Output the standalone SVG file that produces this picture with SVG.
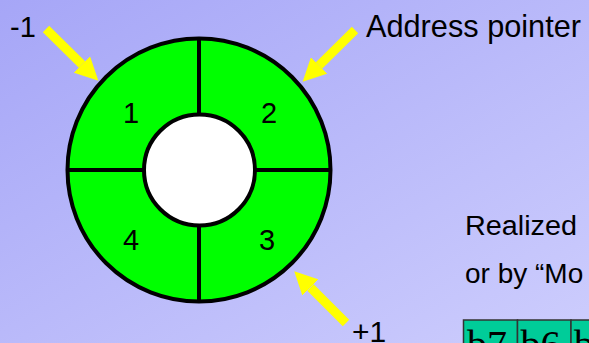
<svg xmlns="http://www.w3.org/2000/svg" width="589" height="343" viewBox="0 0 589 343">
  <defs>
    <linearGradient id="bg" x1="0" y1="0" x2="1" y2="1">
      <stop offset="0" stop-color="#a6a6f7"/>
      <stop offset="1" stop-color="#cdcdfd"/>
    </linearGradient>
    <marker id="head" viewBox="0 0 23 23" refX="0" refY="11.5" markerWidth="23" markerHeight="23" markerUnits="userSpaceOnUse" orient="auto">
      <path d="M0,0 L23,11.5 L0,23 z" fill="#ffff00"/>
    </marker>
    <style>
      .lbl { font-family: "Liberation Sans", Arial, sans-serif; fill: #000; }
      .ring { fill: #00ff00; stroke: #000; stroke-width: 4; }
      .hole { fill: #fff; stroke: #000; stroke-width: 4; }
      .div { stroke: #000; stroke-width: 4; }
      .arrow { stroke: #ffff00; stroke-width: 9; fill: none; marker-end: url(#head); }
      .cell { fill: #00cc99; stroke: #333; stroke-width: 1.5; }
      .bit { font-family: "Liberation Serif", "Times New Roman", serif; font-size: 40px; fill: #000; }
    </style>
  </defs>

  <rect x="0" y="0" width="589" height="343" fill="url(#bg)"/>

  <g id="buffer">
    <circle class="ring" cx="199" cy="170" r="131.5"/>
    <line class="div" x1="199" y1="38" x2="199" y2="302"/>
    <line class="div" x1="67" y1="170" x2="331" y2="170"/>
    <circle class="hole" cx="199.5" cy="170" r="55.5"/>
  </g>

  <g id="slot1"><text class="lbl" x="131" y="123" font-size="29" text-anchor="middle">1</text></g>
  <g id="slot2"><text class="lbl" x="269" y="123" font-size="29" text-anchor="middle">2</text></g>
  <g id="slot3"><text class="lbl" x="267" y="249.5" font-size="29" text-anchor="middle">3</text></g>
  <g id="slot4"><text class="lbl" x="131" y="249.5" font-size="29" text-anchor="middle">4</text></g>

  <g id="connectors">
    <line class="arrow" x1="46" y1="29" x2="82" y2="64.5"/>
    <line class="arrow" x1="355" y1="30" x2="319" y2="65.5"/>
    <line class="arrow" x1="346" y1="323" x2="310.5" y2="287.5"/>
  </g>

  <g id="minus1"><text class="lbl" x="10" y="37" font-size="29">-1</text></g>
  <g id="pointer"><text class="lbl" x="366" y="37" font-size="32" textLength="215" lengthAdjust="spacingAndGlyphs">Address pointer</text></g>
  <g id="plus1"><text class="lbl" x="352" y="342" font-size="30">+1</text></g>

  <g id="note">
    <text class="lbl" x="465" y="234.5" font-size="27" textLength="112" lengthAdjust="spacingAndGlyphs">Realized</text>
    <text class="lbl" x="465" y="283" font-size="28">or by “Mo</text>
  </g>

  <g id="bits">
    <rect class="cell" x="463.5" y="320" width="54" height="45"/>
    <rect class="cell" x="517.5" y="320" width="53.5" height="45"/>
    <rect class="cell" x="571" y="320" width="54" height="45"/>
    <text class="bit" x="467" y="358">b7</text>
    <text class="bit" x="520.5" y="358">b6</text>
    <text class="bit" x="574" y="358">b5</text>
  </g>
</svg>
